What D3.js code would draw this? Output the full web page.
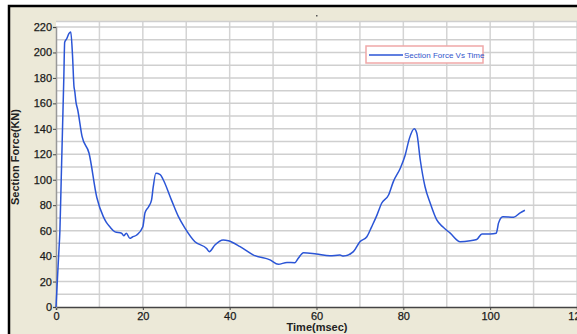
<!DOCTYPE html>
<html><head><meta charset="utf-8">
<script src="https://cdn.jsdelivr.net/npm/d3@7"></script>
<style>body{margin:0;background:#fff}svg{display:block}</style>
</head><body>
<script>
const timeMs = [0,0.3,0.6,0.9,1.2,1.5,1.8,2.0,2.5,3.0,3.4,3.8,4.15,4.3,4.6,5.0,6.0,7.6,9.4,10.9,11.6,12.4,13.6,15.1,15.6,16.2,17.0,17.6,18.6,20.0,20.5,21.3,22.0,22.4,23.0,24.0,24.7,26.6,28.2,29.7,32.0,34.7,35.3,36.6,38.5,39.7,42.4,45.5,49.3,51.2,53.2,55.0,55.8,57.0,60.0,63.1,65.4,66.2,68.5,70.0,71.6,72.7,73.9,75.0,76.6,77.7,79.3,80.4,81.4,82.5,83.1,83.9,85.0,86.2,87.7,89.2,90.8,93.1,95.4,96.9,98.1,100.0,101.4,101.7,101.9,102.9,105.4,106.9,108.0];
const forceKN = [0,20,40,60,100,140,180,208,211,215,216,198,173,170,161,155,134,121,86,71,66.5,63,59,58,56,58,54,55,56.6,63,74,78.6,84,94.5,105,104,100,84,71,62,51.3,46,43.5,48.7,52.6,52,47.4,40.8,37,33.5,35,34.8,38.3,42.7,41.6,40.3,40.8,40,43.5,51.3,55.2,63,72,81.5,88,98.5,109,119,132.5,140,136.5,115.5,94.5,81.5,68.4,62.6,58,51.3,52,53,57.4,57.4,58,62,65.7,71,70.5,74,76];
const xTicks = [0,20,40,60,80,100,120];
const yTicks = [0,20,40,60,80,100,120,140,160,180,200,220];
const seriesName = "Section Force Vs Time";

const W = 577, H = 334;
const svg = d3.select("body").append("svg").attr("width", W).attr("height", H);
svg.append("rect").attr("x",9).attr("y",6).attr("width",W+10).attr("height",H+10)
  .attr("fill","#ece9d8").attr("stroke","#000").attr("stroke-width",2.5);

const x = d3.scaleLinear().domain([0,120]).range([56,577]);
const y = d3.scaleLinear().domain([0,220]).range([307,27]);
const plotTop = 21;

svg.append("rect").attr("x",56).attr("y",plotTop).attr("width",W-56).attr("height",307-plotTop).attr("fill","#fff");

const grid = svg.append("g");
grid.selectAll("line.v").data(d3.range(10,121,10)).join("line")
  .attr("x1",d=>x(d)).attr("x2",d=>x(d)).attr("y1",plotTop).attr("y2",307)
  .attr("stroke","#d4d4d4").attr("stroke-width",1.5);
grid.selectAll("line.h").data(d3.range(10,221,10)).join("line")
  .attr("y1",d=>y(d)).attr("y2",d=>y(d)).attr("x1",56).attr("x2",W)
  .attr("stroke","#cfcfcf").attr("stroke-width",1.5);
grid.append("line").attr("x1",56).attr("x2",W).attr("y1",plotTop+0.5).attr("y2",plotTop+0.5).attr("stroke","#cfcfcf").attr("stroke-width",1.5);

const xAxis = svg.append("g").attr("transform","translate(0,307)")
  .call(d3.axisBottom(x).tickValues(xTicks).tickSize(3).tickFormat(d3.format("d")));
const yAxis = svg.append("g").attr("transform","translate(56,0)")
  .call(d3.axisLeft(y).tickValues(yTicks).tickSize(3).tickFormat(d3.format("d")));
[xAxis,yAxis].forEach(a=>{
  a.select(".domain").attr("stroke","#444").attr("stroke-width",1.5);
  a.selectAll(".tick line").attr("stroke","#444");
  a.selectAll("text").attr("font-family","Liberation Sans, Arial, sans-serif").attr("font-size",11).attr("fill","#1a1a1a")
    .attr("stroke","#1a1a1a").attr("stroke-width",0.25);
});
yAxis.select(".domain").attr("stroke","#999");
yAxis.selectAll("text").attr("x",-4);
xAxis.selectAll("text").attr("y",5);

const line = d3.line().x((d,i)=>x(timeMs[i])).y(d=>y(d)).curve(d3.curveMonotoneX);
svg.append("path").datum(forceKN).attr("d",line).attr("fill","none")
  .attr("stroke","#2b55d6").attr("stroke-width",1.5).attr("stroke-linejoin","round");

svg.append("text").attr("x",317).attr("y",331).attr("text-anchor","middle")
  .attr("font-family","Liberation Sans, Arial, sans-serif").attr("font-size",11).attr("font-weight","bold").attr("fill","#222")
  .text("Time(msec)");
svg.append("text").attr("transform","translate(19,157) rotate(-90)").attr("text-anchor","middle")
  .attr("font-family","Liberation Sans, Arial, sans-serif").attr("font-size",11).attr("font-weight","bold").attr("fill","#222")
  .text("Section Force(KN)");

svg.append("rect").attr("x",316).attr("y",15).attr("width",1.5).attr("height",1.5).attr("fill","#555");

const lg = svg.append("g");
lg.append("rect").attr("x",366).attr("y",46).attr("width",117).attr("height",17).attr("fill","#fff").attr("stroke","#f0a8a8").attr("stroke-width",1.5);
lg.append("line").attr("x1",369).attr("x2",403).attr("y1",55).attr("y2",55).attr("stroke","#2b55d6").attr("stroke-width",1.5);
lg.append("text").attr("x",404).attr("y",58).attr("font-family","Liberation Sans, Arial, sans-serif").attr("font-size",8).attr("fill","#3355cc").text(seriesName);
</script>
</body></html>
